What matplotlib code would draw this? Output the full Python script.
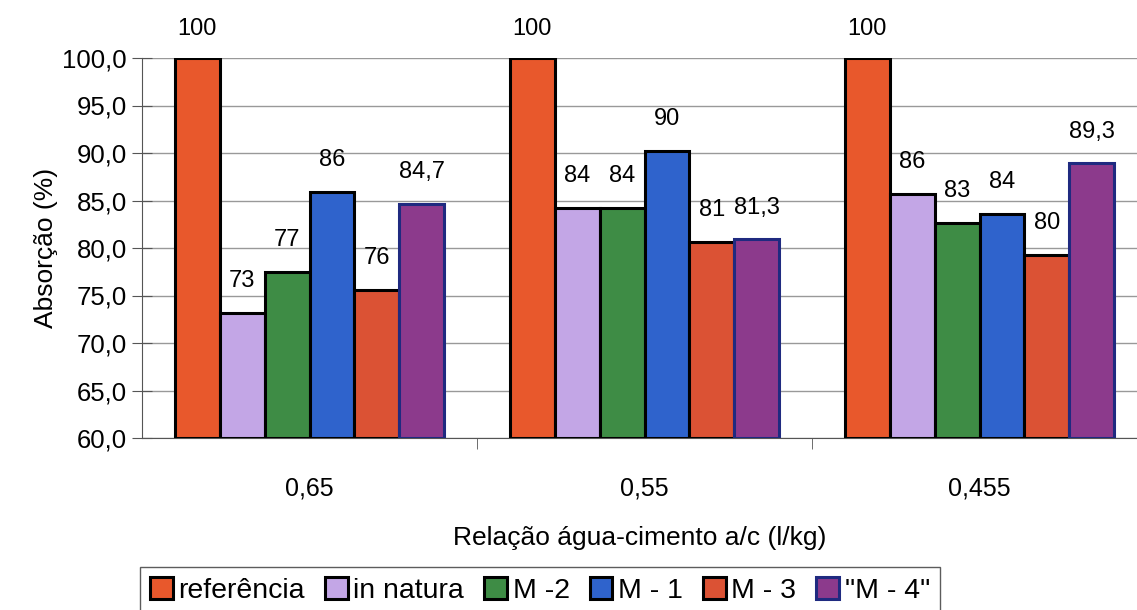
#!/usr/bin/env python3
# -*- coding: utf-8 -*-

import numpy as np
import matplotlib
matplotlib.use("Agg")
import matplotlib.pyplot as plt

plt.rcParams['font.family'] = ['Liberation Sans', 'DejaVu Sans']

# relacao a/c
categorias = ['0,65', '0,55', '0,455']
series = ['referência', 'in natura', 'M -2', 'M - 1', 'M - 3', '"M - 4"']

# absorcao (%)
referencia = [100.0, 100.0, 100.0]
in_natura = [73.2, 84.2, 85.7]
m2 = [77.5, 84.2, 82.6]
m1 = [85.9, 90.2, 83.6]
m3 = [75.6, 80.6, 79.3]
m4 = [84.6, 80.9, 88.9]

# rotulos como aparecem no grafico
rot_referencia = ['100', '100', '100']
rot_in_natura = ['73', '84', '86']
rot_m2 = ['77', '84', '83']
rot_m1 = ['86', '90', '84']
rot_m3 = ['76', '81', '80']
rot_m4 = ['84,7', '81,3', '89,3']

valores = [referencia, in_natura, m2, m1, m3, m4]
rotulos = [rot_referencia, rot_in_natura, rot_m2, rot_m1, rot_m3, rot_m4]
cores = ['#E8582C', '#C3A6E6', '#3E8C45', '#2F63CC', '#DB5234', '#8C3A8C']
bordas = ['black', 'black', 'black', 'black', 'black', '#1F2A80']

fig = plt.figure(figsize=(11.37, 6.10), dpi=100)
ax = fig.add_axes([142/1137, 1 - 438/610, 1 - 142/1137, (438 - 58)/610])

x = np.arange(len(categorias))
w = 0.134
for i, (vals, labs) in enumerate(zip(valores, rotulos)):
    pos = x + (i - 2.5) * w
    ax.bar(pos, [v - 60 for v in vals], w, bottom=60, color=cores[i],
           edgecolor=bordas[i], linewidth=2.2, label=series[i], zorder=3)
    for p, v, t in zip(pos, vals, labs):
        off = 21 if v >= 100 else 23
        ax.annotate(t, (p, v), xytext=(0, off), textcoords='offset points',
                    ha='center', va='center', fontsize=17)

yt = np.arange(60, 101, 5)
ax.set_ylim(60, 100)
ax.set_xlim(-0.5, 2.5 - 10/335)
ax.set_yticks(yt)
ax.set_yticklabels([('%.1f' % v).replace('.', ',') for v in yt], fontsize=18.5)
ax.yaxis.set_tick_params(direction='inout', length=14, width=0.8, color='#555555', pad=4)
ax.yaxis.grid(True, color='#999999', linewidth=1.0, zorder=0)
ax.set_axisbelow(True)

ax.set_xticks(x)
ax.set_xticklabels(categorias, fontsize=18)
ax.tick_params(axis='x', length=0, pad=28)
ax.set_xticks([0.5, 1.5], minor=True)
ax.tick_params(axis='x', which='minor', length=8, direction='out', color='#555555')

for s in ['top', 'right']:
    ax.spines[s].set_visible(False)
ax.spines['left'].set_color('#555555')
ax.spines['bottom'].set_color('#555555')

ax.set_ylabel('Absorção (%)', fontsize=19, labelpad=3)
ax.set_xlabel('Relação água-cimento a/c (l/kg)', fontsize=19, labelpad=18)

leg = fig.legend(loc='upper center', bbox_to_anchor=(540/1137, 1 - 567/610),
                 ncol=6, fontsize=20.5, frameon=True, fancybox=False,
                 handlelength=0.8, handleheight=0.8, handletextpad=0.2,
                 columnspacing=0.7, borderpad=0.35, borderaxespad=0)
leg.get_frame().set_edgecolor('#333333')
leg.get_frame().set_linewidth(1.0)

plt.savefig('out.png', dpi=100)
